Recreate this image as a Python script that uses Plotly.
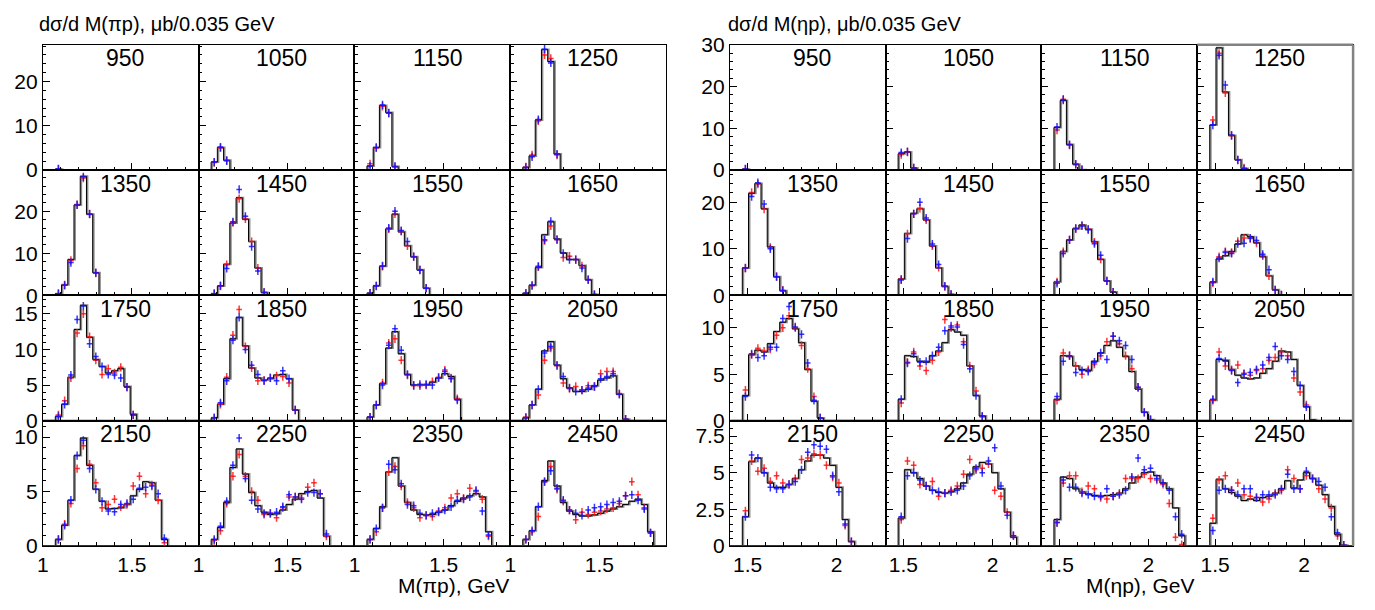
import plotly.graph_objects as go

W, H = 1375, 610
FONT = "Liberation Sans, Arial, Helvetica, sans-serif"

ENERGIES = ["950", "1050", "1150", "1250", "1350", "1450", "1550", "1650",
            "1750", "1850", "1950", "2050", "2150", "2250", "2350", "2450"]

BIN_WIDTH = 0.035
N_BINS = 25
FIRST_BIN = 2
PI_X_START = 1.0
ETA_X_START = 1.4

PI_YMAX = [28.3, 29.8, 17.6, 11.5]
PI_YDTICK = [10, 10, 5, 5]
ETA_YMAX = [30.05, 26.9, 13.5, 8.55]
ETA_YDTICK = [10, 10, 5, 2.5]

# ---- pi p invariant mass distributions (values start at bin FIRST_BIN) ----
PI_HIST = [
    [0.2],
    [1.8, 5.1, 2.2],
    [0.9, 5.1, 14.6, 13.0, 0.8],
    [0.6, 3.2, 11.3, 27.2, 24.5, 3.6],
    [0.4, 2.5, 8.5, 21.5, 28.3, 19.3, 5.4],
    [0.4, 2.2, 7.4, 17.2, 23.2, 18.1, 12.8, 6.5, 0.7],
    [0.5, 2.3, 6.9, 15.8, 19.3, 15.1, 11.8, 9.2, 6.1, 1.7],
    [0.5, 2.4, 6.6, 14.4, 17.5, 13.4, 10.1, 8.5, 8.5, 7.1, 3.7, 0.2],
    [0.6, 2.3, 6.1, 12.8, 16.2, 11.7, 8.6, 7.6, 6.7, 7.0, 7.3, 4.8, 0.9],
    [0.4, 2.3, 5.9, 11.5, 14.5, 10.5, 7.4, 6.0, 5.7, 5.9, 6.4, 6.5, 5.9, 1.5],
    [0.5, 2.2, 5.2, 10.2, 12.5, 9.4, 6.5, 5.0, 5.0, 5.0, 5.4, 6.0, 6.6, 6.2, 3.0],
    [0.4, 2.2, 4.4, 9.8, 11.1, 7.8, 5.9, 4.6, 4.1, 4.1, 4.4, 4.9, 5.7, 6.0, 6.3, 3.7, 0.2],
    [0.6, 1.9, 4.2, 8.3, 9.9, 7.4, 5.2, 4.1, 3.4, 3.45, 3.5, 3.8, 4.6, 5.2, 5.9, 5.8, 4.2, 0.6],
    [0.6, 1.7, 4.0, 7.2, 8.9, 6.6, 4.9, 3.7, 3.1, 2.9, 2.95, 3.3, 3.8, 4.3, 4.8, 5.0, 5.1, 4.4, 0.9],
    [0.6, 1.6, 3.6, 6.8, 8.1, 5.5, 4.0, 3.3, 2.9, 2.85, 2.9, 3.1, 3.3, 3.7, 4.1, 4.4, 4.6, 4.8, 4.5, 1.3],
    [0.6, 1.4, 3.6, 6.0, 7.8, 5.5, 4.0, 3.2, 2.9, 2.75, 2.75, 2.85, 3.0, 3.2, 3.4, 3.6, 3.8, 4.1, 4.3, 3.8, 1.3],
]
PI_BLUE = [
    [0.25],
    [1.8, 5.2, 2.1],
    [0.9, 5.1, 14.7, 12.9, 0.8],
    [0.6, 3.0, 11.4, 27.3, 24.2, 3.6],
    [0.4, 2.4, 7.8, 21.5, 28.2, 19.3, 5.4],
    [0.4, 2.3, 6.4, 17.5, 25.2, 18.8, 11.6, 5.8, 0.7],
    [0.5, 2.2, 7.0, 16.0, 20.0, 15.4, 12.8, 9.2, 6.0, 1.7],
    [0.5, 2.4, 6.9, 13.2, 17.6, 13.3, 10.0, 8.5, 8.5, 6.5, 3.7, 0.2],
    [0.6, 2.3, 6.4, 14.2, 16.1, 10.8, 9.0, 7.6, 6.5, 6.4, 6.0, 4.7, 0.8],
    [0.4, 2.5, 5.6, 11.3, 14.5, 10.0, 7.8, 6.5, 5.6, 6.0, 5.6, 7.0, 5.9, 1.5],
    [0.5, 2.2, 5.0, 10.6, 12.9, 9.9, 6.5, 5.0, 5.1, 5.1, 5.0, 6.0, 6.9, 5.9, 2.9],
    [0.4, 2.2, 4.4, 9.5, 10.4, 7.8, 6.2, 4.6, 4.1, 4.3, 4.6, 4.8, 5.9, 6.2, 6.6, 3.7, 0.2],
    [0.6, 1.9, 4.2, 8.3, 9.7, 7.1, 5.2, 4.1, 3.2, 3.15, 3.8, 3.9, 4.3, 5.3, 5.4, 5.5, 4.8, 0.7],
    [0.6, 1.8, 4.1, 7.4, 9.9, 6.2, 4.2, 3.4, 3.0, 3.0, 3.1, 3.6, 4.7, 4.5, 4.3, 4.9, 4.9, 4.8, 1.1],
    [0.6, 1.6, 3.5, 7.5, 7.0, 5.7, 3.8, 3.7, 3.0, 2.8, 3.0, 3.1, 3.3, 3.6, 4.2, 4.3, 4.5, 5.1, 3.2, 1.0],
    [0.6, 1.4, 3.6, 5.9, 6.9, 5.3, 4.2, 3.3, 3.0, 2.8, 3.3, 3.5, 3.6, 3.8, 4.0, 4.1, 4.6, 4.7, 4.2, 3.4, 1.2],
]
PI_RED = [
    [0.2],
    [1.7, 5.0, 2.2],
    [1.4, 5.0, 14.4, 12.8, 0.7],
    [0.7, 3.4, 11.1, 26.0, 25.2, 3.4],
    [0.4, 2.5, 8.3, 21.6, 27.9, 19.4, 5.3],
    [0.4, 2.2, 7.3, 17.3, 23.0, 18.2, 12.8, 6.5, 0.7],
    [0.5, 2.3, 6.9, 15.8, 19.4, 15.2, 11.8, 9.2, 6.1, 1.7],
    [0.4, 2.3, 6.8, 13.0, 16.5, 13.2, 9.0, 9.3, 8.5, 7.0, 3.8, 0.2],
    [0.8, 2.8, 6.0, 12.3, 15.0, 11.8, 8.5, 6.5, 7.3, 6.7, 7.5, 4.7, 0.8],
    [0.4, 2.3, 6.1, 12.0, 15.6, 10.4, 7.4, 5.6, 5.7, 6.0, 6.3, 6.2, 5.3, 1.5],
    [0.5, 2.2, 5.3, 10.9, 11.5, 8.5, 6.4, 4.9, 4.9, 5.0, 5.5, 6.1, 7.1, 6.0, 3.1],
    [0.5, 2.2, 3.6, 8.5, 10.2, 7.7, 5.3, 4.5, 4.8, 4.3, 4.9, 4.8, 6.6, 6.9, 6.9, 3.8, 0.2],
    [0.6, 2.0, 3.9, 7.1, 9.2, 7.5, 5.8, 3.5, 3.8, 4.3, 3.6, 3.8, 5.5, 6.4, 4.8, 5.6, 4.2, 0.3],
    [0.5, 1.4, 3.9, 6.4, 8.4, 6.4, 5.0, 4.2, 2.9, 3.0, 2.6, 3.5, 4.5, 4.5, 4.4, 5.4, 5.8, 4.8, 0.9],
    [0.6, 1.3, 3.5, 6.8, 7.3, 5.5, 4.0, 3.5, 2.6, 2.8, 2.7, 3.2, 3.5, 4.4, 4.8, 4.4, 5.3, 5.0, 4.3, 0.9],
    [0.6, 1.3, 2.7, 5.9, 7.3, 5.2, 4.1, 3.3, 2.4, 3.1, 2.9, 3.1, 3.2, 3.4, 3.5, 3.9, 4.6, 5.9, 4.7, 3.5, 1.2],
]

# ---- eta p invariant mass distributions (values start at bin FIRST_BIN) ----
ETA_HIST = [
    [0.2],
    [3.9, 4.3, 0.5],
    [10.2, 16.7, 6.1, 1.4, 0.1],
    [10.8, 29.3, 18.7, 8.3, 2.5, 0.4],
    [5.9, 21.9, 24.0, 18.6, 10.4, 4.0, 1.0],
    [3.5, 13.3, 17.6, 18.6, 16.2, 10.6, 5.9, 1.9, 0.2],
    [2.9, 9.4, 11.9, 14.3, 15.1, 14.2, 11.5, 7.7, 3.1, 0.7],
    [2.8, 7.8, 8.5, 9.4, 11.0, 13.0, 12.6, 11.3, 8.3, 4.2, 1.2, 0.1],
    [2.7, 7.1, 7.6, 7.4, 8.3, 9.6, 10.6, 11.0, 9.9, 8.4, 5.5, 2.1, 0.3],
    [2.3, 7.0, 6.9, 6.4, 6.3, 7.0, 7.5, 8.4, 9.8, 9.55, 9.2, 5.9, 2.7, 0.5],
    [2.3, 7.0, 6.9, 5.9, 5.5, 5.4, 6.4, 7.3, 8.1, 8.6, 7.9, 6.9, 5.3, 3.4, 0.9, 0.1],
    [2.2, 6.6, 6.5, 5.5, 4.9, 4.6, 4.5, 4.6, 5.1, 5.6, 6.4, 7.5, 7.4, 6.6, 3.8, 1.5, 0.1],
    [2.0, 5.75, 6.0, 5.0, 4.3, 4.0, 4.0, 4.2, 4.6, 5.2, 5.8, 6.2, 6.2, 6.0, 5.5, 4.0, 1.8, 0.3],
    [1.9, 5.2, 5.0, 4.6, 4.1, 3.8, 3.65, 3.6, 3.7, 3.9, 4.3, 4.9, 5.4, 5.7, 5.6, 5.0, 3.9, 2.3, 0.6],
    [1.8, 4.7, 4.6, 3.9, 3.7, 3.55, 3.45, 3.4, 3.45, 3.5, 3.6, 3.9, 4.3, 4.7, 5.0, 5.05, 4.8, 4.3, 3.9, 2.6, 0.7],
    [1.55, 4.55, 3.9, 3.65, 3.4, 3.1, 3.2, 3.1, 3.3, 3.4, 3.6, 3.9, 4.45, 3.95, 4.5, 5.0, 4.6, 4.15, 3.5, 2.7, 0.8, 0.05],
]
ETA_BLUE = [
    [0.25],
    [4.2, 4.4, 0.5],
    [10.3, 16.8, 6.1, 1.4, 0.1],
    [10.8, 27.5, 20.4, 8.4, 2.4, 0.3],
    [5.9, 21.2, 24.2, 19.6, 10.0, 4.0, 1.0],
    [3.3, 12.2, 17.5, 20.0, 16.6, 11.0, 6.6, 2.0, 0.2],
    [2.6, 9.0, 11.9, 14.4, 14.9, 14.1, 11.1, 8.6, 3.1, 0.7],
    [2.9, 8.0, 9.2, 9.0, 11.1, 11.2, 12.3, 11.8, 8.8, 5.5, 1.2, 0.1],
    [2.6, 7.2, 6.8, 7.0, 7.9, 7.9, 11.0, 12.3, 10.1, 9.3, 6.2, 2.2, 0.3],
    [2.3, 6.2, 7.2, 6.3, 6.4, 7.0, 7.9, 9.7, 10.2, 10.1, 8.2, 5.6, 2.7, 0.5],
    [2.6, 6.4, 7.0, 5.2, 5.4, 5.3, 6.3, 7.3, 6.6, 9.1, 8.6, 8.1, 6.6, 3.6, 0.9, 0.1],
    [2.3, 6.7, 6.4, 5.4, 4.1, 5.0, 5.2, 5.5, 6.0, 6.8, 8.0, 7.0, 6.6, 5.3, 3.8, 1.5],
    [2.0, 6.2, 6.0, 5.0, 4.0, 3.9, 3.9, 4.2, 4.4, 5.2, 6.4, 6.9, 6.8, 6.6, 4.8, 3.7, 1.5, 0.3],
    [2.0, 4.8, 5.0, 4.5, 4.1, 3.8, 3.7, 3.6, 3.7, 3.8, 4.1, 4.8, 5.3, 5.0, 5.8, 6.7, 4.1, 2.1, 0.7],
    [1.6, 4.5, 4.0, 4.0, 3.6, 3.5, 3.4, 3.4, 3.9, 3.4, 3.5, 3.8, 4.7, 6.0, 5.2, 5.3, 4.6, 4.3, 3.8, 2.0, 0.8],
    [1.05, 3.8, 3.9, 3.8, 3.5, 3.9, 3.9, 3.3, 3.5, 3.5, 3.5, 3.9, 4.9, 3.9, 3.9, 5.1, 4.6, 4.4, 4.0, 2.0, 0.9, 0.05],
]
ETA_RED = [
    [0.2],
    [3.7, 4.3, 0.5],
    [9.6, 17.0, 6.0, 1.3, 0.1],
    [12.0, 28.0, 18.5, 8.2, 2.5, 0.5],
    [5.8, 22.1, 23.9, 18.5, 10.3, 4.0, 1.1],
    [3.5, 13.2, 17.5, 18.7, 16.2, 10.6, 6.0, 1.9, 0.2],
    [2.9, 9.4, 11.9, 14.3, 15.0, 14.2, 11.4, 7.8, 3.1, 0.7],
    [2.7, 8.3, 9.4, 9.2, 11.6, 12.3, 12.2, 11.2, 8.5, 4.2, 1.2, 0.1],
    [3.3, 7.1, 7.8, 7.5, 7.7, 9.2, 10.0, 11.3, 10.0, 8.1, 5.6, 2.6, 0.3],
    [1.9, 6.3, 7.4, 5.9, 5.4, 6.5, 7.4, 10.9, 10.0, 10.3, 8.5, 5.9, 3.2, 0.4],
    [2.2, 7.3, 7.0, 5.9, 5.0, 5.5, 6.1, 7.0, 8.5, 9.1, 8.3, 7.0, 5.6, 3.6, 0.9, 0.1],
    [2.2, 7.4, 5.9, 5.5, 6.0, 5.1, 4.9, 5.4, 5.6, 6.5, 6.8, 7.4, 7.0, 4.6, 3.1, 1.7],
    [2.4, 5.8, 5.1, 5.3, 4.4, 4.8, 4.3, 4.2, 4.6, 5.9, 6.0, 6.3, 6.2, 5.5, 4.7, 4.3, 1.4, 0.3],
    [1.8, 5.8, 5.5, 4.2, 4.1, 4.4, 3.4, 3.6, 3.8, 4.1, 4.9, 5.9, 5.2, 5.3, 5.6, 3.8, 3.4, 2.3, 0.7],
    [1.6, 4.3, 4.8, 4.8, 3.7, 4.1, 3.9, 3.3, 3.2, 3.4, 3.6, 4.6, 4.6, 4.6, 4.9, 4.6, 4.5, 4.2, 2.9, 0.6, 0.1],
    [1.9, 4.5, 4.8, 3.8, 4.3, 3.5, 3.4, 3.3, 3.0, 3.2, 3.6, 3.8, 5.2, 4.6, 3.9, 4.8, 4.6, 3.9, 3.2, 2.6, 0.7, 0.05],
]

GRIDS = [
    dict(left=37, right=663, start=PI_X_START, hist=PI_HIST, blue=PI_BLUE, red=PI_RED,
         ymax=PI_YMAX, ydtick=PI_YDTICK,
         ytitle="dσ/d M(πp), μb/0.035 GeV", xtitle="M(πp), GeV",
         ytitle_cx=152, xtitle_cx=449),
    dict(left=727, right=1353, start=ETA_X_START, hist=ETA_HIST, blue=ETA_BLUE, red=ETA_RED,
         ymax=ETA_YMAX, ydtick=ETA_YDTICK,
         ytitle="dσ/d M(ηp), μb/0.035 GeV", xtitle="M(ηp), GeV",
         ytitle_cx=843, xtitle_cx=1139),
]
TOP, BOTTOM = 35, 555

BLUE = "rgba(20,20,255,0.85)"
RED = "rgba(255,20,20,0.85)"


def px(x):
    return x / W


def py(y):
    return 1 - y / H


fig = go.Figure()
layout = {}
annotations = []
shapes = []

n = 0
for gi, g in enumerate(GRIDS):
    pw = (g["right"] - g["left"]) / 4
    ph = (BOTTOM - TOP) / 4
    x_start = g["start"]
    x_end = x_start + N_BINS * BIN_WIDTH
    edges = [x_start + k * BIN_WIDTH for k in range(N_BINS + 1)]
    for p in range(16):
        n += 1
        row, col = divmod(p, 4)
        xa = "x" if n == 1 else f"x{n}"
        ya = "y" if n == 1 else f"y{n}"
        xkey = "xaxis" if n == 1 else f"xaxis{n}"
        ykey = "yaxis" if n == 1 else f"yaxis{n}"
        ymax = g["ymax"][row]
        ydt = g["ydtick"][row]

        vals = [0.0] * N_BINS
        for i, v in enumerate(g["hist"][p]):
            vals[FIRST_BIN + i] = v
        step_y = vals + [vals[-1]]
        shift = BIN_WIDTH * 0.15
        fig.add_trace(go.Scatter(
            x=[e + shift for e in edges], y=step_y, mode="lines", line_shape="hv",
            line=dict(color="rgb(140,140,140)", width=2.0),
            xaxis=xa, yaxis=ya, hoverinfo="skip", showlegend=False))
        fig.add_trace(go.Scatter(
            x=edges, y=step_y, mode="lines", line_shape="hv",
            line=dict(color="black", width=1.0),
            xaxis=xa, yaxis=ya, hoverinfo="skip", showlegend=False))
        # baseline of the data points along zero
        fig.add_trace(go.Scatter(
            x=[x_start, x_end], y=[0, 0], mode="lines",
            line=dict(color="rgb(40,30,200)", width=2),
            xaxis=xa, yaxis=ya, hoverinfo="skip", showlegend=False))

        ey = ymax * 0.033
        for series, colr in ((g["red"][p], RED), (g["blue"][p], BLUE)):
            cx = [x_start + (FIRST_BIN + i + 0.5) * BIN_WIDTH for i in range(len(series))]
            fig.add_trace(go.Scatter(
                x=cx, y=series, mode="markers",
                marker=dict(size=1, color=colr),
                error_x=dict(type="constant", value=BIN_WIDTH * 0.45, color=colr, thickness=1.5, width=0),
                error_y=dict(type="constant", value=ey, color=colr, thickness=1.5, width=0),
                xaxis=xa, yaxis=ya, hoverinfo="skip", showlegend=False, cliponaxis=True))

        x0 = g["left"] + col * pw
        y0 = TOP + row * ph
        layout[xkey] = dict(
            domain=[px(x0), px(x0 + pw)], range=[x_start, x_end], anchor=ya,
            showline=True, linecolor="black", linewidth=1, mirror=True,
            ticks="inside", ticklen=7, tickwidth=1, tickcolor="black",
            tick0=0, dtick=0.5,
            minor=dict(ticks="inside", ticklen=3.5, dtick=0.1, tickcolor="black", showgrid=False),
            showgrid=False, zeroline=False, showticklabels=(row == 3),
            tickfont=dict(family=FONT, size=21, color="black"), fixedrange=True)
        layout[ykey] = dict(
            domain=[py(y0 + ph), py(y0)], range=[0, ymax], anchor=xa,
            showline=True, linecolor="black", linewidth=1, mirror=True,
            ticks="inside", ticklen=7, tickwidth=1, tickcolor="black",
            tick0=0, dtick=ydt,
            minor=dict(ticks="inside", ticklen=3.5, dtick=ydt / 5, tickcolor="black", showgrid=False),
            showgrid=False, zeroline=False, showticklabels=(col == 0),
            tickfont=dict(family=FONT, size=21, color="black"), fixedrange=True)

        annotations.append(dict(
            text=ENERGIES[p], x=px(x0 + 0.53 * pw), y=py(y0 + 14), xref="paper", yref="paper",
            xanchor="center", yanchor="middle", showarrow=False,
            font=dict(family=FONT, size=23, color="black")))

        if gi == 1 and p == 3:
            shapes.append(dict(type="line", xref="paper", yref="paper",
                               x0=px(x0), x1=px(x0 + pw), y0=py(TOP), y1=py(TOP),
                               line=dict(color="rgb(130,130,130)", width=2.5)))

    if gi == 1:
        shapes.append(dict(type="line", xref="paper", yref="paper",
                           x0=px(g["right"]), x1=px(g["right"]), y0=py(TOP), y1=py(BOTTOM),
                           line=dict(color="rgb(130,130,130)", width=2.5)))

    annotations.append(dict(
        text=g["ytitle"], x=px(g["ytitle_cx"]), y=py(14), xref="paper", yref="paper",
        xanchor="center", yanchor="middle", showarrow=False,
        font=dict(family=FONT, size=20, color="black")))
    annotations.append(dict(
        text=g["xtitle"], x=px(g["xtitle_cx"]), y=py(596), xref="paper", yref="paper",
        xanchor="center", yanchor="middle", showarrow=False,
        font=dict(family=FONT, size=21, color="black")))

fig.update_layout(
    width=W, height=H, autosize=False,
    margin=dict(l=0, r=0, t=0, b=0),
    paper_bgcolor="white", plot_bgcolor="white",
    showlegend=False, annotations=annotations, shapes=shapes,
    font=dict(family=FONT, color="black"),
    **layout)

fig.write_html("out.html")
